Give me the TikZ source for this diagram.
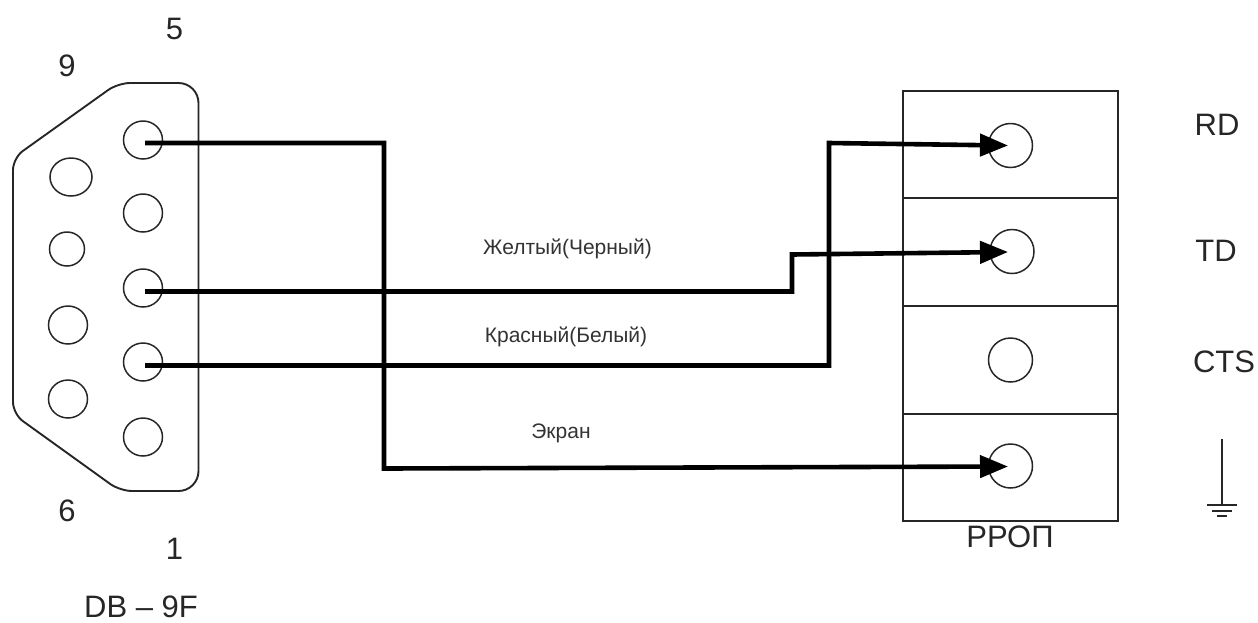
\documentclass[tikz,border=0pt]{standalone}
\usepackage{fontspec}
\setmainfont{Liberation Sans}
\usetikzlibrary{arrows.meta,shapes.geometric}
\tikzset{
  x=1pt,y=-1pt,
  outline/.style={draw=black!85,line width=1.9pt},
  hole/.style={ellipse,draw=black!85,line width=1.5pt,minimum width=#1,inner sep=0pt},
  pin/.style={circle,draw=black!85,line width=1.5pt,minimum size=44pt,inner sep=0pt},
  wire/.style={draw=black,line width=4.6pt,line join=miter},
  head/.style={-{Triangle[length=28pt,width=22pt]}},
  big/.style={font=\fontsize{31}{33}\selectfont,text=black!85,inner sep=0pt},
  small/.style={font=\fontsize{21}{23}\selectfont,text=black!80,inner sep=0pt},
}
\begin{document}
\begin{tikzpicture}
\useasboundingbox (0,0) rectangle (1258,622);
% connector shell
\draw[outline,rounded corners=12pt] (118,83) [rounded corners=20pt] -- (198.5,83) -- (198.5,491) [rounded corners=12pt] -- (120,491) -- (13,414) -- (13,158) -- cycle;
% pins of the connector
\node[hole=39pt,minimum height=38pt] (p5) at (143,140) {};
\node[hole=39pt,minimum height=38pt] (p4) at (143,213) {};
\node[hole=39pt,minimum height=38pt] (p3) at (143,288) {};
\node[hole=39pt,minimum height=38pt] (p2) at (143,362) {};
\node[hole=39pt,minimum height=38pt] (p1) at (143,437) {};
\node[hole=42pt,minimum height=38pt] (p9) at (71,177) {};
\node[hole=35pt,minimum height=34pt] (p8) at (67,249) {};
\node[hole=39pt,minimum height=38pt] (p7) at (68,325) {};
\node[hole=39pt,minimum height=38pt] (p6) at (68,399) {};
% terminal block
\draw[outline] (903,91) rectangle (1118,521);
\draw[outline] (903,198) -- (1118,198);
\draw[outline] (903,306) -- (1118,306);
\draw[outline] (903,414) -- (1118,414);
\node[pin] (rd) at (1010.5,145.5) {};
\node[pin] (td) at (1012,251.5) {};
\node[pin] (cts) at (1010.5,360) {};
\node[pin] (gnd) at (1010.5,466) {};
% wire waypoints
\coordinate (s5) at (145,143);
\coordinate (s3) at (145,291.5);
\coordinate (s2) at (145,365.5);
\coordinate (a1) at (384,143);
\coordinate (a2) at (384,468.5);
\coordinate (b1) at (792,291.5);
\coordinate (b2) at (792,254.5);
\coordinate (c1) at (829,365.5);
\coordinate (c2) at (829,143);
\coordinate (trd) at (1008,145.5);
\coordinate (ttd) at (1008,252);
\coordinate (tgn) at (1008,466.5);
% wires
\draw[wire,head] (s5) -- (a1) -- (a2) -- (tgn);
\draw[wire,head] (s3) -- (b1) -- (b2) -- (ttd);
\draw[wire,head] (s2) -- (c1) -- (c2) -- (trd);
% labels
\node[big] (n5) at (174.5,29) {5};
\node[big] (n9) at (67,65.5) {9};
\node[big] (n6) at (67,511) {6};
\node[big] (n1) at (174.5,549) {1};
\node[big] (dbf) at (141,607) {DB – 9F};
\node[big] (lrd) at (1217,125) {RD};
\node[big] (ltd) at (1216,251) {TD};
\node[big] (lcts) at (1224,362) {CTS};
\node[big] (lrp) at (1010,537) {РРОП};
\node[small] (ly) at (567.5,249) {Желтый(Черный)};
\node[small] (lr) at (566,337) {Красный(Белый)};
\node[small] (le) at (561,433) {Экран};
% ground symbol
\coordinate (g0) at (1222,439);
\coordinate (g1) at (1222,505);
\draw[outline] (g0) -- (g1);
\draw[outline] (1207,505) -- (1237,505);
\draw[outline] (1212,511) -- (1232,511);
\draw[outline] (1217,516) -- (1227,516);
\end{tikzpicture}
\end{document}
